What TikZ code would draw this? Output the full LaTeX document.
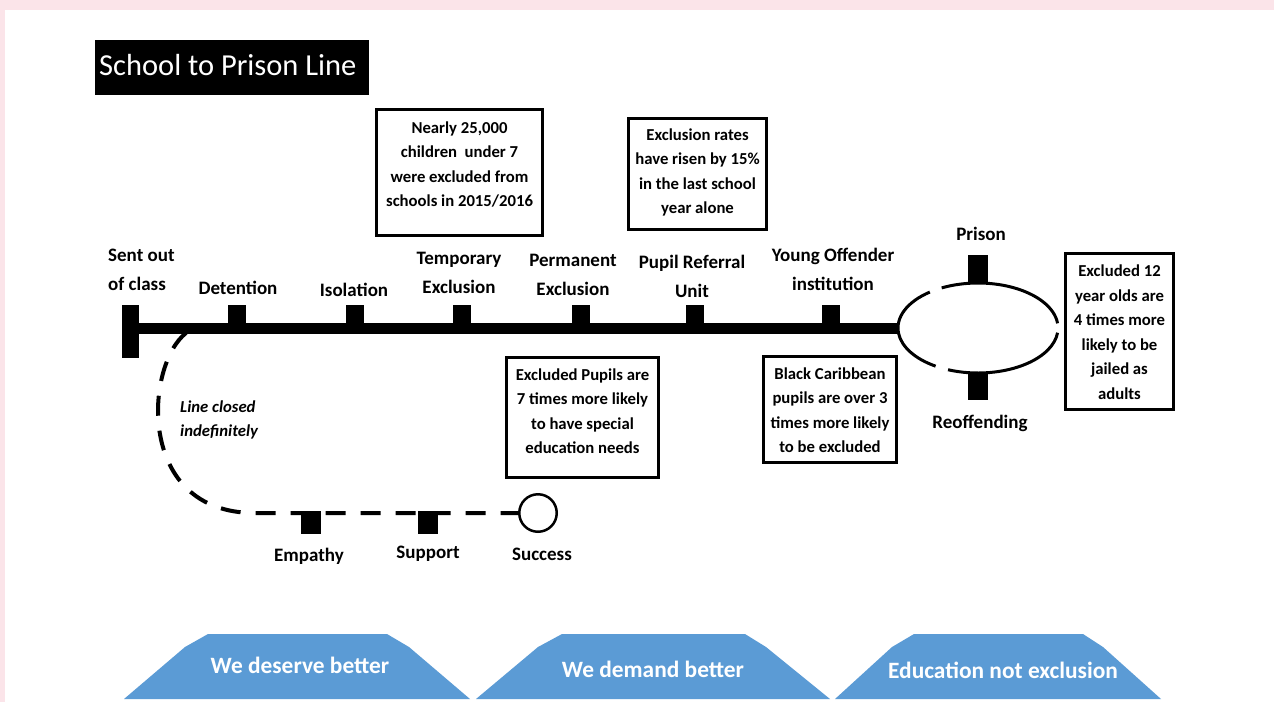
\documentclass[tikz,border=0pt]{standalone}
\usepackage{fontspec}
\setmainfont{Carlito}
\usetikzlibrary{positioning}
\definecolor{bannerblue}{HTML}{5B9BD5}
\definecolor{pagepink}{HTML}{FBE4E9}

\tikzset{
  stopmark/.style={fill=black, inner sep=0pt, minimum width=18pt, minimum height=20pt},
  stoplabel/.style={font=\fontsize{19}{29}\selectfont\bfseries, align=center, inner sep=0pt},
  factbox/.style={draw, line width=3pt, inner sep=0pt},
  facttext/.style={font=\fontsize{16.7}{24.5}\selectfont\bfseries, align=center, inner sep=0pt},
  track/.style={line width=11pt},
  sideline/.style={line width=4pt, dash pattern=on 20pt off 15pt},
  banner/.style={fill=bannerblue},
  bannertext/.style={text=white, font=\fontsize{23.4}{28}\selectfont\bfseries, inner sep=0pt}
}

\begin{document}
\begin{tikzpicture}[x=1pt, y=-1pt]
  \useasboundingbox (0,0) rectangle (1274,702);
  \fill[pagepink] (0,0) rectangle (1274,702);
  \fill[white] (5,10) rectangle (1274,702);

  % title
  \node[fill=black, inner sep=0pt, minimum width=274pt, minimum height=55pt, anchor=north west]
        (title) at (95,40) {};
  \node[text=white, font=\fontsize{30.5}{36}\selectfont, inner sep=0pt, anchor=west]
        (titletxt) at ([xshift=4pt, yshift=2.5pt]title.west) {School to Prison Line};

  % main line
  \node[fill=black, inner sep=0pt, minimum width=17pt, minimum height=53pt] (start) at (130.5,331.5) {};
  \node[inner sep=0pt, minimum width=160pt, minimum height=90pt] (ring) at (978,328) {};
  \draw[track] (start.east |- ring.west) -- (ring.west);

  \node[stopmark] (det) at (237,315) {};
  \node[stopmark] (iso) at (355,315) {};
  \node[stopmark] (temp) at (462,315) {};
  \node[stopmark] (perm) at (581,315) {};
  \node[stopmark] (pru) at (695,315) {};
  \node[stopmark] (yoi) at (831,315) {};

  \node[stoplabel, align=left, anchor=west] (startlbl) at (108,269.5) {Sent out\\of class};
  \node[stoplabel] (detlbl) at (238,288) {Detention};
  \node[stoplabel] (isolbl) at (354,290) {Isolation};
  \node[stoplabel] (templbl) at (459,273) {Temporary\\Exclusion};
  \node[stoplabel] (permlbl) at (573,274.5) {Permanent\\Exclusion};
  \node[stoplabel] (prulbl) at (692,276.5) {Pupil Referral\\Unit};
  \node[stoplabel] (yoilbl) at (833,269) {Young Offender\\institution};

  % ring at the end of the line
  \draw[line width=3pt] (ring.center) ++(-6:80 and 45) arc[start angle=-6, end angle=-117, x radius=80, y radius=45];
  \draw[line width=3pt] (ring.center) ++(-127:80 and 45) arc[start angle=-127, end angle=-238, x radius=80, y radius=45];
  \draw[line width=3pt] (ring.center) ++(-248:80 and 45) arc[start angle=-248, end angle=-354, x radius=80, y radius=45];
  \node[fill=black, inner sep=0pt, minimum width=20pt, minimum height=28pt, above=0pt of ring.north] (prison) {};
  \node[fill=black, inner sep=0pt, minimum width=20pt, minimum height=27pt, below=0pt of ring.south] (reoff) {};
  \node[stoplabel] (prisonlbl) at (981,234) {Prison};
  \node[stoplabel] (reofflbl) at (980,423) {Reoffending};

  % fact boxes
  \node[factbox, minimum width=166pt, minimum height=126pt] (factA) at (459.5,172.5) {};
  \node[facttext] (factAtxt) at (459.5,164.5) {Nearly 25,000\\children\ \ under 7\\were excluded from\\schools in 2015/2016};
  \node[factbox, minimum width=138pt, minimum height=111pt] (factB) at (697.5,174) {};
  \node[facttext] (factBtxt) at (697.5,172.5) {Exclusion rates\\have risen by 15\%\\in the last school\\year alone};
  \node[factbox, minimum width=152pt, minimum height=120pt] (factC) at (582.5,417.5) {};
  \node[facttext] (factCtxt) at (582.5,411) {Excluded Pupils are\\7 times more likely\\to have special\\education needs};
  \node[factbox, minimum width=133pt, minimum height=106pt] (factD) at (830,409.5) {};
  \node[facttext] (factDtxt) at (830,410) {Black Caribbean\\pupils are over 3\\times more likely\\to be excluded};
  \node[factbox, minimum width=108pt, minimum height=156pt] (factE) at (1119.5,331.5) {};
  \node[facttext] (factEtxt) at (1119.5,332) {Excluded 12\\year olds are\\4 times more\\likely to be\\jailed as\\adults};

  % the other way
  \coordinate (branch) at (186,333);
  \node[draw, circle, line width=2.5pt, minimum size=37.5pt, inner sep=0pt] (success) at (538,513) {};
  \draw[sideline] (branch) .. controls (145,365) and (135,513) .. (255,513) -- (success.west);
  \node[fill=black, inner sep=0pt, minimum width=20pt, minimum height=23pt] (empathy) at (310.5,522.5) {};
  \node[fill=black, inner sep=0pt, minimum width=20pt, minimum height=23pt] (support) at (428,522.5) {};
  \node[stoplabel] (empathylbl) at (309,556) {Empathy};
  \node[stoplabel] (supportlbl) at (428,554) {Support};
  \node[stoplabel] (successlbl) at (542,554) {Success};
  \node[facttext, font=\fontsize{16.7}{24.5}\selectfont\bfseries\itshape, align=left, anchor=west]
        (closed) at (180,420) {Line closed\\indefinitely};

  % banners
  \fill[banner] (124,699) -- (185,647) -- (208,634) -- (387,634) -- (409,647) -- (470,699) -- cycle;
  \node[bannertext] (deserve) at (300,665.5) {We deserve better};
  \fill[banner] (476,699) -- (538,647) -- (562,634) -- (745,634) -- (766,647) -- (830,699) -- cycle;
  \node[bannertext] (demand) at (653,669) {We demand better};
  \fill[banner] (835,699) -- (892,647) -- (914,634) -- (1083,634) -- (1103,647) -- (1161,699) -- cycle;
  \node[bannertext] (education) at (1003,670) {Education not exclusion};
\end{tikzpicture}
\end{document}
